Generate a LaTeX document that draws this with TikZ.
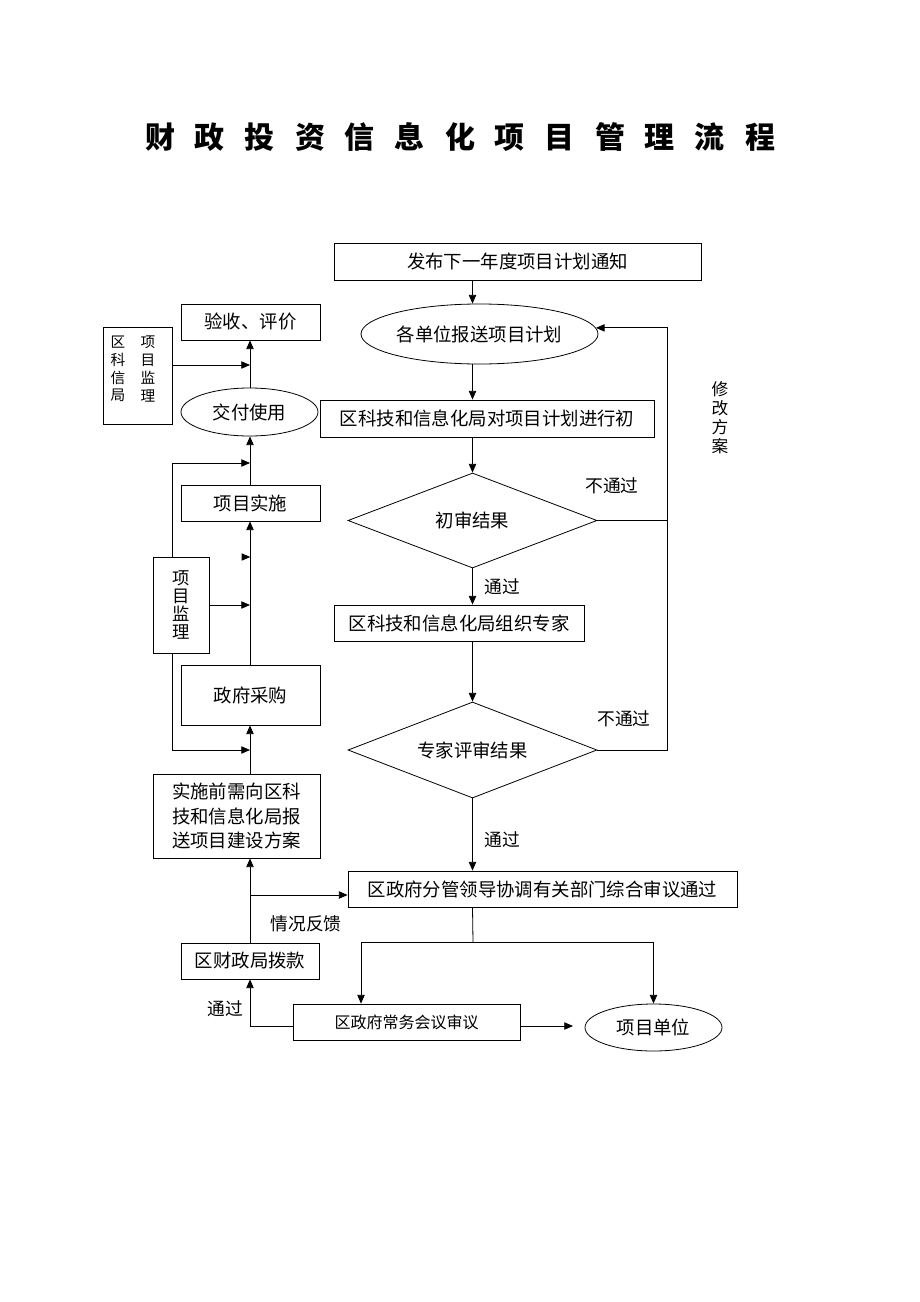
\documentclass[tikz,border=0pt]{standalone}
\usepackage{fontspec}
\newfontfamily\cjk{Noto Sans CJK SC}
\usetikzlibrary{shapes.geometric,arrows.meta}
\begin{document}
\begin{tikzpicture}[x=0.75pt,y=-0.75pt,
  every node/.style={font=\cjk\fontsize{13.8}{16}\selectfont, inner sep=0pt},
  box/.style={draw, line width=0.6pt, align=center},
  oval/.style={draw, ellipse, line width=0.6pt, align=center},
  dia/.style={draw, diamond, shape aspect=2.6, line width=0.6pt, minimum width=186.75pt},
  lab/.style={font=\cjk\fontsize{13.3}{16}\selectfont},
  arr/.style={line width=0.6pt, -{Triangle[length=6.5pt,width=5.5pt]}},
  ln/.style={line width=0.6pt}]
\useasboundingbox (0,0) rectangle (920,1302);
% title
\node[font=\cjk\bfseries\fontsize{22.5}{26}\selectfont] (title) at (460,137)
  {财\hspace{15pt}政\hspace{15pt}投\hspace{15pt}资\hspace{15pt}信\hspace{15pt}息\hspace{15pt}化\hspace{15pt}项\hspace{15pt}目\hspace{15pt}管\hspace{15pt}理\hspace{15pt}流\hspace{15pt}程};
% main column
\node[box, minimum width=275.25pt, minimum height=27.75pt] (n1) at (517.5,261.5) {发布下一年度项目计划通知};
\node[oval, minimum width=177.75pt, minimum height=45pt] (n2) at (479.5,334) {各单位报送项目计划};
\node[box, minimum width=250.5pt, minimum height=27.75pt] (n3) at (487,418.5) {区科技和信息化局对项目计划进行初};
\node[dia, minimum height=71.25pt] (d1) at (472.5,520.5) {初审结果};
\node[box, minimum width=187.5pt, minimum height=27pt] (n4) at (459,623) {区科技和信息化局组织专家};
\node[dia, minimum height=72pt] (d2) at (472.5,750) {专家评审结果};
\node[box, minimum width=291.75pt, minimum height=27pt] (n5) at (542.5,889) {区政府分管领导协调有关部门综合审议通过};
\node[box, minimum width=170.25pt, minimum height=27pt, font=\cjk\fontsize{12}{14}\selectfont] (n6) at (406.5,1022) {区政府常务会议审议};
\node[oval, minimum width=102.75pt, minimum height=35.25pt] (n7) at (653.5,1027.5) {项目单位};
% left column
\node[box, minimum width=103.5pt, minimum height=27pt] (n8) at (250,961) {区财政局拨款};
\node[box, minimum width=125.25pt, minimum height=63pt, font=\cjk\fontsize{13.8}{18.4}\selectfont] (n9) at (236.5,816) {实施前需向区科\\技和信息化局报\\送项目建设方案};
\node[box, minimum width=104.25pt, minimum height=45pt] (n10) at (250.5,695) {政府采购};
\node[box, minimum width=42pt, minimum height=72pt, font=\cjk\fontsize{13}{13.7}\selectfont] (n11) at (181,605) {项\\目\\监\\理};
\node[box, minimum width=104.25pt, minimum height=27pt] (n12) at (250.5,503) {项目实施};
\node[oval, minimum width=102.75pt, minimum height=36pt] (n13) at (249.5,412) {交付使用};
\node[box, minimum width=104.25pt, minimum height=27pt] (n14) at (250.5,322) {验收、评价};
\node[box, minimum width=51.75pt, minimum height=72.75pt] (n15) at (137.5,375.5) {};
\node[align=center, font=\cjk\fontsize{11}{13.3}\selectfont] (n15a) at (118,369) {区\\科\\信\\局};
\node[align=center, font=\cjk\fontsize{11}{13.3}\selectfont] (n15b) at (148,369) {项\\目\\监\\理};
% labels
\node[lab] (l1) at (612,486) {不通过};
\node[lab] (l2) at (624,719) {不通过};
\node[lab] (l3) at (502,587) {通过};
\node[lab] (l4) at (502,840) {通过};
\node[lab] (l5) at (306,924) {情况反馈};
\node[lab] (l6) at (225,1009) {通过};
\node[align=center, font=\cjk\fontsize{12.5}{14.2}\selectfont] (l7) at (720,418) {修\\改\\方\\案};
% coordinates
\coordinate (rx) at (667,0);
\coordinate (vx) at (250,0);
\coordinate (lx) at (172,0);
\coordinate (sl) at (361,942);
\coordinate (sp) at (473,942);
\coordinate (pe) at (573,1026);
\coordinate (fbk) at (250,895);
\coordinate (b1) at (0,750);
\coordinate (t1) at (0,463);
\coordinate (m1) at (0,365);
\coordinate (mk) at (250,557);
% main flow
\draw[arr] (n1.south -| d1.center) -- (d1.center |- n2.north);
\draw[arr] (d1.center |- n2.south) -- (d1.center |- n3.north);
\draw[arr] (d1.center |- n3.south) -- (d1.north);
\draw[arr] (d1.south) -- (d1.center |- n4.north);
\draw[arr] (d1.center |- n4.south) -- (d2.north);
\draw[arr] (d2.south) -- (d2.center |- n5.north);
% feedback loop
\draw[ln] (d1.east) -- (d1.east -| rx);
\draw[arr] (d2.east) -- (d2.east -| rx) -- (rx |- n2.3.5) -- (n2.3.5);
% split
\draw[ln] (d2.center |- n5.south) -- (sp);
\draw[ln] (sl) -- (n7.north |- sl);
\draw[arr] (sl) -- (sl |- n6.north);
\draw[arr] (n7.north |- sl) -- (n7.north);
\draw[arr] (n6.east |- pe) -- (pe);
\draw[arr] (n6.west |- pe) -- (vx |- pe) -- (vx |- n8.south);
% left column
\draw[arr] (vx |- n8.north) -- (vx |- n9.south);
\draw[arr] (fbk) -- (n5.west |- fbk);
\draw[arr] (vx |- n9.north) -- (vx |- n10.south);
\draw[arr] (vx |- n10.north) -- (vx |- n12.south);
\draw[arr] (vx |- n12.north) -- (vx |- n13.south);
\draw[arr] (vx |- n13.north) -- (vx |- n14.south);
\draw[arr] (lx |- n11.south) -- (lx |- b1) -- (vx |- b1);
\draw[arr] (lx |- n11.north) -- (lx |- t1) -- (vx |- t1);
\draw[arr] (n11.east) -- (vx |- n11.east);
\draw[arr] (n15.east |- m1) -- (vx |- m1);
\fill ([xshift=0.3pt]mk) -- ++(-6.5pt,-2.75pt) -- ++(0,5.5pt) -- cycle;
\end{tikzpicture}
\end{document}
